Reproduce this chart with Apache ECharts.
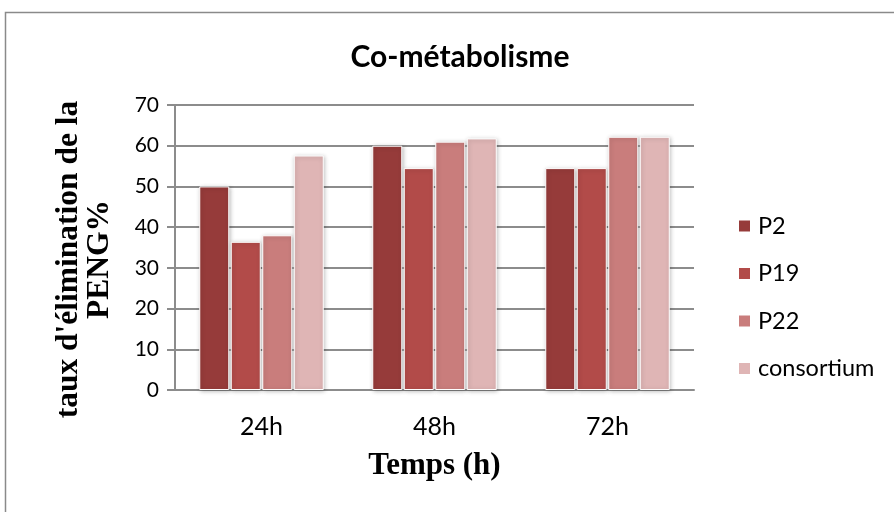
<!DOCTYPE html>
<html>
<head>
<meta charset="utf-8">
<script src="https://cdn.jsdelivr.net/npm/echarts@6/dist/echarts.min.js"></script>
<style>
html,body{margin:0;padding:0;background:#fff;}
#chart{width:894px;height:512px;}
</style>
</head>
<body>
<div id="chart"></div>
<script>
var categories = ['24h', '48h', '72h'];
var seriesNames = ['P2', 'P19', 'P22', 'consortium'];
var P2 = [50, 60, 54.5];
var P19 = [36.4, 54.5, 54.5];
var P22 = [38, 61, 62.2];
var consortium = [57.6, 61.8, 62.2];
var colors = ['#963B3A', '#B24B49', '#C97D7C', '#DFB5B5'];
var yTicks = {min: 0, max: 70, interval: 10};

var values = [P2, P19, P22, consortium];
var chart = echarts.init(document.getElementById('chart'));
var gridColor = '#8c8c8c';
var series = seriesNames.map(function (n, i) {
  return {
    name: n,
    type: 'bar',
    data: values[i],
    barWidth: 30,
    barGap: '5%',
    itemStyle: {
      color: colors[i],
      borderColor: '#ffffff',
      borderWidth: 1,
      shadowBlur: 4,
      shadowColor: 'rgba(0,0,0,0.25)',
      shadowOffsetX: 1,
      shadowOffsetY: 1
    }
  };
});
chart.setOption({
  backgroundColor: '#ffffff',
  animation: false,
  title: {
    text: 'Co-métabolisme',
    left: 455,
    textAlign: 'center',
    top: 37,
    textStyle: {fontFamily: 'Lato', fontWeight: 'bold', fontSize: 30, color: '#000'}
  },
  legend: {
    orient: 'vertical',
    left: 732,
    top: 209,
    itemWidth: 13,
    itemHeight: 13,
    itemGap: 23.5,
    icon: 'rect',
    data: seriesNames,
    textStyle: {fontFamily: 'Lato', fontSize: 23.5, color: '#000', padding: [0, 0, 0, 2]}
  },
  grid: {left: 175, right: 200, top: 105, bottom: 122, containLabel: false},
  xAxis: {
    type: 'category',
    data: categories,
    name: 'Temps (h)',
    nameLocation: 'middle',
    nameGap: 60,
    nameTextStyle: {fontFamily: 'Liberation Serif', fontWeight: 'bold', fontSize: 31, color: '#000'},
    axisLine: {lineStyle: {color: gridColor, width: 2}},
    axisTick: {show: false},
    axisLabel: {margin: 24, fontFamily: 'Lato', fontSize: 25, color: '#000'}
  },
  yAxis: {
    type: 'value',
    min: yTicks.min,
    max: yTicks.max,
    interval: yTicks.interval,
    name: "taux d'élimination de la\nPENG%",
    nameLocation: 'middle',
    nameGap: 60,
    nameRotate: 90,
    nameTextStyle: {fontFamily: 'Liberation Serif', fontWeight: 'bold', fontSize: 31.5, color: '#000', lineHeight: 31, padding: [0, 24, 0, 0]},
    axisLine: {show: true, lineStyle: {color: gridColor, width: 2}},
    axisTick: {show: true, length: 8, lineStyle: {color: gridColor, width: 2}},
    axisLabel: {margin: 16, fontFamily: 'Lato', fontSize: 21, color: '#000'},
    splitLine: {show: true, lineStyle: {color: gridColor, width: 2}}
  },
  graphic: [{
    type: 'rect',
    shape: {x: 5.5, y: 12.5, width: 900, height: 520},
    style: {fill: 'none', stroke: '#8a8a8a', lineWidth: 1.5},
    silent: true
  }],
  series: series
});
</script>
</body>
</html>
